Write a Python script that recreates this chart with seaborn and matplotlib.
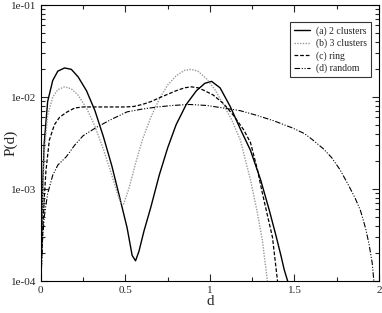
import numpy as np
import seaborn as sns
from matplotlib import pyplot as plt
from matplotlib.ticker import FixedLocator, LogLocator, FuncFormatter, NullFormatter

# (a) 2 clusters
d_a = [0.0, 0.01, 0.02, 0.04, 0.07, 0.10, 0.14, 0.18, 0.22, 0.27, 0.32, 0.37, 0.42, 0.47,
       0.51, 0.54, 0.56, 0.58, 0.61, 0.65, 0.70, 0.75, 0.80, 0.86, 0.92, 0.97, 1.01, 1.06,
       1.12, 1.18, 1.24, 1.30, 1.35, 1.39, 1.42, 1.44, 1.46]
p_a = [1.0e-4, 1.0e-3, 3.2e-3, 8.9e-3, 1.51e-2, 1.91e-2, 2.07e-2, 2.0e-2, 1.66e-2, 1.17e-2,
       7.1e-3, 3.7e-3, 1.78e-3, 7.6e-4, 3.8e-4, 1.9e-4, 1.66e-4, 2.1e-4, 3.5e-4, 6.3e-4,
       1.41e-3, 2.8e-3, 5.0e-3, 8.3e-3, 1.17e-2, 1.41e-2, 1.48e-2, 1.26e-2, 7.9e-3, 4.5e-3,
       2.63e-3, 1.26e-3, 6.0e-4, 3.16e-4, 1.9e-4, 1.32e-4, 1.0e-4]

# (b) 3 clusters
d_b = [0.0, 0.01, 0.02, 0.04, 0.07, 0.10, 0.14, 0.18, 0.22, 0.27, 0.32, 0.37, 0.42, 0.45,
       0.47, 0.49, 0.52, 0.56, 0.60, 0.65, 0.70, 0.75, 0.80, 0.85, 0.89, 0.93, 0.98, 1.03,
       1.08, 1.13, 1.18, 1.24, 1.28, 1.31, 1.34]
p_b = [1.0e-4, 7.9e-4, 2.5e-3, 6.3e-3, 1.0e-2, 1.2e-2, 1.29e-2, 1.23e-2, 1.05e-2, 7.6e-3,
       4.8e-3, 2.7e-3, 1.41e-3, 9.3e-4, 7.2e-4, 6.9e-4, 1.0e-3, 1.9e-3, 3.4e-3, 6.0e-3,
       9.5e-3, 1.35e-2, 1.7e-2, 1.95e-2, 2.0e-2, 1.9e-2, 1.58e-2, 1.2e-2, 8.3e-3, 5.6e-3,
       3.4e-3, 1.26e-3, 5.6e-4, 2.8e-4, 1.0e-4]

# (c) ring
d_c = [0.0, 0.01, 0.02, 0.03, 0.05, 0.08, 0.11, 0.15, 0.20, 0.25, 0.30, 0.40, 0.50, 0.55,
       0.60, 0.65, 0.70, 0.75, 0.80, 0.85, 0.89, 0.93, 0.97, 1.02, 1.08, 1.14, 1.20, 1.24,
       1.28, 1.31, 1.34, 1.37, 1.40]
p_c = [1.0e-4, 3.2e-4, 7.9e-4, 1.58e-3, 3.4e-3, 5.0e-3, 6.0e-3, 6.8e-3, 7.6e-3, 7.8e-3,
       7.8e-3, 7.8e-3, 7.8e-3, 7.9e-3, 8.3e-3, 8.9e-3, 9.8e-3, 1.07e-2, 1.17e-2, 1.26e-2,
       1.29e-2, 1.26e-2, 1.17e-2, 1.05e-2, 8.5e-3, 6.3e-3, 4.4e-3, 3.2e-3, 1.66e-3, 9.1e-4,
       5.2e-4, 3.0e-4, 1.0e-4]

# (d) random
d_d = [0.0, 0.005, 0.01, 0.02, 0.04, 0.07, 0.10, 0.15, 0.20, 0.25, 0.33, 0.42, 0.51, 0.60,
       0.69, 0.78, 0.88, 0.98, 1.08, 1.18, 1.28, 1.38, 1.49, 1.56, 1.61, 1.67, 1.72, 1.77,
       1.82, 1.86, 1.89, 1.92, 1.94, 1.96, 1.97]
p_d = [1.0e-4, 1.58e-4, 2.8e-4, 5.0e-4, 8.9e-4, 1.41e-3, 1.82e-3, 2.24e-3, 3.0e-3, 3.8e-3,
       4.7e-3, 5.75e-3, 6.9e-3, 7.4e-3, 7.8e-3, 8.1e-3, 8.3e-3, 8.1e-3, 7.6e-3, 7.1e-3,
       6.3e-3, 5.5e-3, 4.6e-3, 4.0e-3, 3.4e-3, 2.75e-3, 2.2e-3, 1.62e-3, 1.1e-3, 7.9e-4,
       5.9e-4, 3.8e-4, 2.6e-4, 1.58e-4, 1.0e-4]

labels = ["(a) 2 clusters", "(b) 3 clusters", "(c) ring", "(d) random"]

sns.set_style("ticks")
plt.rcParams["font.family"] = ["Liberation Serif", "DejaVu Serif"]

fig = plt.figure(figsize=(3.82, 3.13), dpi=100)
ax = fig.add_axes([0.107, 0.102, 0.885, 0.882])

series = [
    (d_a, p_a, "black", "-", 1.0),
    (d_b, p_b, "#9a9a9a", (0, (1, 1)), 1.0),
    (d_c, p_c, "black", (0, (3, 1.5)), 0.9),
    (d_d, p_d, "black", (0, (5, 1.5, 1, 1.5, 1, 1.5)), 0.8),
]
for (x, y, col, ls, lw), lab in zip(series, labels):
    sns.lineplot(x=x, y=y, ax=ax, color=col, linestyle=ls, linewidth=lw,
                 label=lab, estimator=None, sort=False)

ax.set_yscale("log")
ax.set_xlim(0, 2)
ax.set_ylim(1e-4, 1e-1)
ax.xaxis.set_major_locator(FixedLocator([0, 0.5, 1, 1.5, 2]))
ax.xaxis.set_minor_locator(FixedLocator([0.25, 0.75, 1.25, 1.75]))
ax.xaxis.set_major_formatter(FuncFormatter(lambda v, p: "{:g}".format(v)))
ax.yaxis.set_major_locator(FixedLocator([1e-4, 1e-3, 1e-2, 1e-1]))
ax.yaxis.set_minor_locator(LogLocator(base=10, subs=np.arange(2, 10)))
ax.yaxis.set_major_formatter(FuncFormatter(lambda v, p: "1e-{:02d}".format(int(round(-np.log10(v))))))
ax.yaxis.set_minor_formatter(NullFormatter())

ax.tick_params(which="both", direction="in", top=True, right=True, labelsize=8, width=0.8)
ax.tick_params(which="major", length=5)
ax.tick_params(which="minor", length=3)
for s in ax.spines.values():
    s.set_linewidth(0.8)
    s.set_color("black")

ax.set_xlabel("d", fontsize=11)
ax.set_ylabel("P(d)", fontsize=11)
ax.xaxis.set_label_coords(0.5, -0.05)
ax.yaxis.set_label_coords(-0.07, 0.5)

leg = ax.legend(loc="upper right", bbox_to_anchor=(0.977, 0.937), fontsize=7,
                frameon=True, fancybox=False, edgecolor="black", handlelength=1.7,
                handletextpad=0.6, borderpad=0.4, labelspacing=0.3, borderaxespad=0)
leg.get_frame().set_linewidth(0.8)

fig.savefig("out.png", dpi=100)
